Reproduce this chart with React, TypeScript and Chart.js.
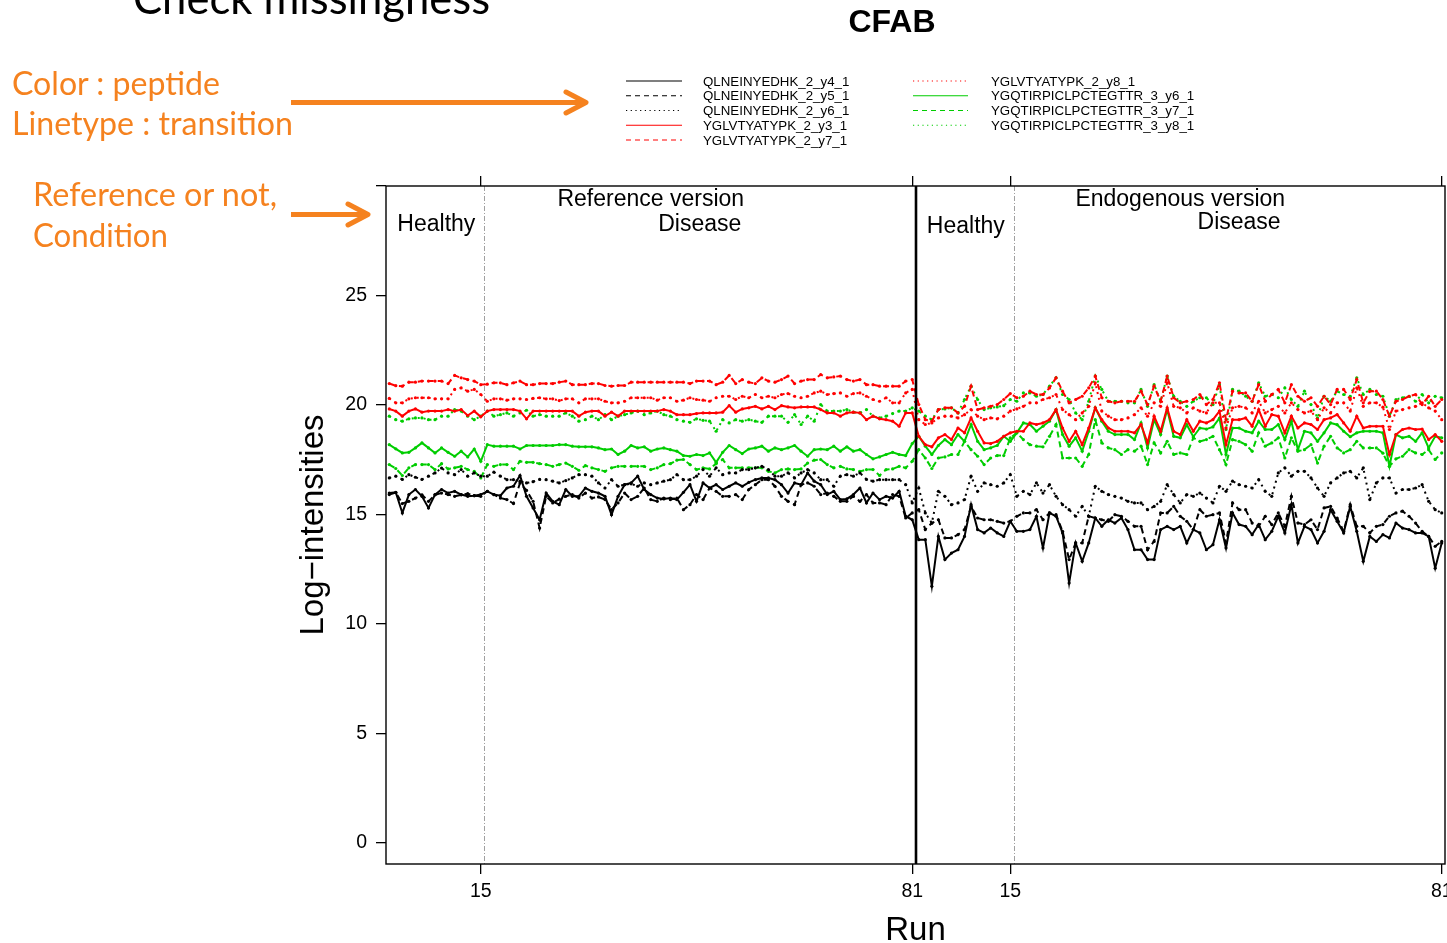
import React, { useEffect, useRef } from 'react';
import { Chart, registerables } from 'chart.js';

Chart.register(...registerables);

// ---------------- data ----------------
const RUNS_PER_PANEL = 81;
const HEALTHY_RUNS = 15;
const PANEL_NAMES = ['Reference version', 'Endogenous version'];
const CONDITION_NAMES = ['Healthy', 'Disease'];
const X_TICK_RUNS = [15, 81, 96, 162];
const Y_TICKS = [0, 5, 10, 15, 20, 25, 30];
const Y_LABELED_MAX = 25;

const TRANSITIONS = [
  'QLNEINYEDHK_2_y4_1',
  'QLNEINYEDHK_2_y5_1',
  'QLNEINYEDHK_2_y6_1',
  'YGLVTYATYPK_2_y3_1',
  'YGLVTYATYPK_2_y7_1',
  'YGLVTYATYPK_2_y8_1',
  'YGQTIRPICLPCTEGTTR_3_y6_1',
  'YGQTIRPICLPCTEGTTR_3_y7_1',
  'YGQTIRPICLPCTEGTTR_3_y8_1',
];

// Reference version, runs 1..81
const refQ_y4 = [15.98,16.01,15.07,15.91,16.14,15.83,15.30,15.91,16.14,15.98,16.06,15.91,15.83,15.86,15.91,16.06,15.91,15.86,16.21,16.29,16.78,15.83,15.30,14.76,15.98,15.60,15.45,16.14,15.83,15.83,16.21,16.06,15.98,15.83,14.99,15.83,16.36,16.44,16.75,16.14,15.91,15.75,15.71,15.75,15.68,16.01,16.36,15.60,16.44,16.21,16.36,16.14,16.29,16.44,16.29,16.47,16.59,16.67,16.67,16.59,16.36,15.98,16.44,16.36,16.89,16.52,16.36,15.91,16.06,15.68,15.71,15.91,16.21,15.53,15.98,15.68,15.83,15.75,16.06,14.92,14.76];
const refQ_y5 = [15.91,16.00,15.50,15.60,15.75,15.90,15.60,15.90,15.98,15.91,15.83,15.90,15.95,15.86,15.83,16.06,15.91,15.75,15.68,15.50,16.44,16.10,15.60,14.38,15.83,15.53,15.70,15.83,15.91,15.75,15.98,15.75,15.80,15.68,15.22,15.53,15.98,15.68,15.83,16.21,15.68,15.60,15.75,15.68,15.75,15.22,15.45,15.91,15.68,16.21,16.06,15.83,15.83,15.91,15.68,16.14,16.36,16.59,16.59,16.29,15.83,15.60,15.45,16.36,16.44,16.29,15.91,15.98,15.83,15.60,15.60,15.83,15.60,15.91,15.53,15.53,15.45,15.91,15.83,14.84,15.07];
const refQ_y6 = [16.67,16.75,16.60,16.82,16.70,16.60,16.75,16.90,17.12,16.90,16.82,17.05,16.75,16.90,16.75,16.75,16.93,16.75,16.59,16.59,16.52,16.44,16.50,16.60,16.59,16.52,16.44,16.55,16.67,16.82,16.82,16.75,16.44,16.21,16.59,16.29,16.36,16.40,16.29,16.44,16.36,16.44,16.52,16.59,16.82,16.59,16.59,16.75,17.05,16.75,17.13,16.82,16.90,16.90,17.05,17.05,17.13,17.20,17.05,16.75,16.75,16.90,16.67,16.90,17.05,16.90,16.59,16.59,16.29,16.75,16.82,16.75,16.90,16.60,16.52,16.59,16.59,16.59,16.59,16.36,15.53];
const refY_y3 = [19.82,19.72,19.49,19.72,19.82,19.67,19.72,19.72,19.72,19.79,19.72,19.79,19.52,19.72,19.46,19.72,19.79,19.79,19.79,19.79,19.72,19.37,19.72,19.72,19.72,19.72,19.72,19.72,19.72,19.49,19.67,19.72,19.72,19.49,19.67,19.49,19.72,19.72,19.72,19.72,19.72,19.72,19.79,19.72,19.56,19.56,19.56,19.61,19.64,19.64,19.64,19.67,19.97,19.67,19.82,19.87,19.94,19.82,19.94,19.79,19.97,19.91,19.87,19.91,19.91,19.91,19.79,19.64,19.64,19.49,19.64,19.67,19.64,19.33,19.49,19.37,19.33,19.26,19.03,19.64,19.64];
const refY_y7 = [20.98,20.88,20.86,21.04,21.04,21.09,21.09,21.09,21.09,20.98,21.35,21.24,21.16,21.09,20.93,20.95,21.01,21.01,20.93,21.01,21.09,20.93,20.93,20.98,20.98,20.98,21.04,21.09,20.93,20.93,20.93,20.98,20.98,20.89,20.86,20.89,20.89,21.04,21.04,21.04,21.04,21.04,21.04,21.04,21.04,21.04,20.98,21.09,21.09,21.09,20.93,21.04,21.35,20.98,21.16,21.04,20.98,21.24,21.09,21.04,21.16,21.32,20.98,21.09,21.16,21.16,21.39,21.24,21.28,21.32,21.16,21.09,21.16,20.93,20.93,20.86,20.86,20.86,20.86,21.09,21.16];
const refY_y8 = [20.30,20.10,20.10,20.28,20.33,20.33,20.33,20.28,20.28,20.28,20.71,20.78,20.63,20.71,20.48,20.17,20.28,20.28,20.22,20.28,20.28,20.25,20.30,20.33,20.28,20.28,20.20,20.28,20.28,20.10,20.28,20.28,20.28,20.17,20.10,20.10,20.17,20.33,20.33,20.33,20.33,20.22,20.33,20.33,20.17,20.22,20.33,20.25,20.22,20.17,20.33,20.40,20.40,20.25,20.40,20.33,20.48,20.33,20.40,20.33,20.48,20.52,20.40,20.33,20.40,20.55,20.63,20.48,20.52,20.55,20.40,20.52,20.55,20.40,20.25,20.17,20.33,20.10,20.10,20.55,20.71];
const refG_y6 = [18.19,18.00,17.81,17.84,18.04,18.27,18.04,17.81,18.04,17.84,17.66,17.89,17.63,17.99,17.43,18.19,18.12,18.12,18.12,18.12,17.99,18.15,18.15,18.15,18.15,18.15,18.19,18.19,18.12,18.09,18.09,18.09,18.04,17.96,17.99,17.74,17.89,18.15,18.04,18.09,17.89,17.99,18.04,17.96,17.89,17.69,17.66,17.74,17.69,17.81,17.38,17.84,18.15,17.96,17.78,17.99,18.04,18.12,17.89,18.04,17.96,18.04,18.15,17.89,17.66,17.96,17.99,17.96,18.12,17.89,18.09,17.89,17.96,17.74,17.54,17.63,17.74,17.84,17.74,17.69,18.24];
const refG_y7 = [17.28,17.10,16.78,17.13,17.28,17.28,17.28,17.05,17.32,17.08,17.13,17.20,17.05,16.97,16.67,17.28,17.20,17.28,17.28,17.05,17.43,17.38,17.38,17.32,17.28,17.20,17.28,17.35,17.20,17.02,17.23,17.13,17.05,16.97,17.13,17.20,17.20,17.20,17.20,17.20,17.05,17.13,17.28,17.32,17.48,17.51,17.28,17.05,17.13,17.08,17.32,17.51,17.13,17.13,17.13,17.13,17.13,17.13,16.97,16.90,17.05,17.08,17.05,17.08,17.35,17.48,17.51,17.28,17.13,17.20,17.08,17.05,16.97,17.05,17.05,16.78,17.05,17.08,17.20,17.13,17.43];
const refG_y8 = [19.49,19.33,19.26,19.37,19.41,19.41,19.33,19.33,19.49,19.49,19.79,19.72,19.49,19.33,19.49,19.72,19.49,19.56,19.64,19.49,19.64,19.76,19.49,19.56,19.49,19.49,19.49,19.64,19.49,19.26,19.33,19.49,19.33,19.56,19.33,19.49,19.56,19.64,19.72,19.56,19.64,19.72,19.56,19.49,19.33,19.26,19.21,19.37,19.30,19.26,18.80,19.33,19.18,19.33,19.26,19.33,19.26,19.21,19.49,19.49,19.49,19.21,19.56,19.11,19.49,19.26,20.02,19.72,19.72,19.72,19.79,19.67,19.64,19.79,19.49,19.41,19.49,19.61,19.72,19.72,19.87];

// Endogenous version, runs 1..81
const endoQ_y4 = [13.85,13.85,11.72,14.00,12.94,13.24,13.39,14.00,15.45,14.31,14.16,14.38,14.16,14.00,14.69,14.23,14.23,14.31,14.92,13.47,15.07,14.92,14.16,11.87,13.70,12.86,13.70,14.84,14.46,14.76,14.61,14.84,14.31,13.39,13.39,12.94,12.94,14.31,14.46,14.31,14.46,13.70,14.31,14.16,13.39,13.62,14.76,13.47,15.07,14.54,14.46,14.08,14.54,13.85,14.23,14.92,14.16,15.45,13.70,14.46,14.31,13.70,14.23,15.22,14.69,14.16,15.37,14.23,12.86,14.00,13.77,14.08,13.93,14.61,14.38,14.31,14.16,14.16,14.00,12.55,13.70];
const endoQ_y5 = [15.22,14.31,14.61,14.76,13.93,13.93,14.08,14.31,15.37,14.84,14.76,14.76,14.69,14.61,14.69,14.92,15.07,15.07,15.22,14.76,15.07,14.99,14.23,12.94,13.70,13.70,14.92,14.84,14.76,14.69,14.99,14.92,14.69,14.46,14.46,13.39,13.77,15.07,15.07,15.37,14.92,14.69,14.31,15.22,14.92,14.99,15.07,13.70,15.53,15.22,15.22,14.61,14.46,14.92,14.54,15.07,14.46,15.83,14.61,14.54,14.76,14.31,15.30,15.37,14.84,14.23,15.45,14.46,14.46,14.16,14.46,14.54,14.92,15.07,15.15,14.92,14.61,14.23,14.00,13.55,13.77];
const endoQ_y6 = [16.21,15.07,14.61,16.06,15.83,15.45,15.53,15.68,16.75,16.06,16.44,16.36,16.29,16.44,16.82,15.83,16.06,15.91,16.44,15.98,16.36,15.83,15.45,15.22,14.92,15.37,14.92,16.29,16.06,15.91,15.83,15.75,15.60,15.53,15.53,15.22,15.37,15.60,16.36,15.91,15.53,15.91,15.83,15.98,15.75,15.53,16.29,16.06,16.52,16.36,16.29,16.21,16.59,16.06,15.83,16.90,17.13,16.75,16.97,16.97,16.67,16.21,15.83,16.44,16.67,16.90,16.97,16.67,17.13,15.68,16.44,16.67,16.67,15.98,16.14,16.14,16.21,16.36,15.60,15.22,15.07];
const endoY_y3 = [18.57,18.19,18.09,18.50,18.65,18.42,18.95,18.73,19.41,18.80,18.27,18.24,18.34,18.57,18.73,18.80,18.80,19.18,19.11,19.18,19.33,19.79,18.95,18.34,18.80,18.19,18.95,19.87,19.33,18.95,18.80,18.80,18.80,18.73,19.11,18.27,19.49,18.80,19.87,18.80,18.65,19.33,18.80,19.26,19.18,19.33,19.72,18.19,19.33,19.33,19.41,19.03,19.79,19.03,19.56,19.49,18.73,19.49,18.95,19.18,19.11,18.88,19.33,19.41,19.56,19.18,18.80,19.49,18.95,19.03,19.03,19.03,17.74,18.65,18.88,18.95,18.88,18.90,18.42,18.65,18.34];
const endoY_y7 = [20.02,19.33,19.26,19.79,19.87,19.87,19.64,19.94,20.86,19.79,19.87,19.94,20.02,20.25,20.52,20.33,20.40,20.63,20.48,20.48,20.78,21.24,20.63,20.10,20.25,20.40,20.78,21.32,20.33,20.17,20.10,20.17,20.17,20.17,20.63,20.02,20.86,20.17,21.32,20.33,20.10,20.17,20.25,20.48,20.02,20.25,21.01,19.33,20.63,20.55,20.55,20.17,20.93,20.17,20.48,20.71,20.10,20.93,20.40,20.17,20.33,19.94,20.40,20.02,20.71,20.71,20.25,21.16,20.10,20.63,20.63,20.25,19.49,20.17,20.25,20.40,20.48,20.02,20.40,19.94,20.25];
const endoY_y8 = [19.33,19.11,19.18,19.41,19.49,19.49,19.41,19.56,19.79,19.49,19.33,19.41,19.37,19.49,19.72,19.82,19.94,20.10,20.10,20.25,20.33,20.48,19.79,19.56,19.33,19.64,19.94,21.01,19.72,19.49,19.33,19.33,19.41,19.56,19.87,19.49,20.10,19.94,21.01,19.94,19.87,19.64,19.87,19.72,19.64,20.10,20.10,18.95,19.87,19.94,19.87,19.64,20.17,19.64,19.79,19.94,19.64,20.10,19.79,19.64,19.72,19.33,19.87,19.64,20.10,20.10,19.72,20.78,19.94,20.10,20.10,19.90,18.88,19.72,19.79,19.87,19.94,20.10,19.87,19.72,19.33];
const endoG_y6 = [18.57,18.12,17.74,18.15,18.42,18.19,18.65,18.34,19.11,18.34,17.96,18.04,18.15,18.57,18.34,18.73,19.18,19.11,18.80,19.03,19.26,19.79,18.65,18.12,18.50,17.89,18.80,19.87,19.26,18.80,18.65,18.65,18.65,18.42,19.18,18.04,19.33,18.65,19.79,18.57,18.50,19.10,18.55,18.95,18.90,19.00,19.40,17.74,18.95,18.95,18.80,18.73,19.26,18.88,18.88,19.11,18.42,19.26,17.96,18.80,18.73,18.34,18.73,19.18,19.10,18.80,18.55,18.73,18.80,18.80,18.80,18.73,17.20,18.65,18.50,18.57,18.34,18.73,18.04,18.57,18.50];
const endoG_y7 = [17.96,17.58,17.10,17.58,17.63,17.74,17.74,18.34,17.96,17.66,17.28,17.58,17.69,17.69,18.50,18.73,18.42,18.19,18.12,18.09,18.57,19.11,17.58,17.58,17.58,17.20,17.74,19.33,18.27,18.04,17.96,17.74,17.96,17.89,18.12,17.28,18.27,17.81,18.34,17.74,17.81,17.74,18.50,18.34,18.42,18.57,17.96,17.28,18.42,18.34,18.19,17.89,18.73,18.12,18.27,18.50,17.58,18.50,17.89,17.96,18.19,17.35,18.12,18.57,18.04,17.81,17.96,18.34,18.04,18.04,18.04,17.80,17.20,17.54,17.66,17.96,17.81,17.74,17.96,17.51,17.81];
const endoG_y8 = [19.72,19.49,19.33,19.79,19.82,19.87,19.64,20.25,20.86,20.25,19.79,19.87,19.91,19.97,20.25,20.17,20.55,20.55,20.40,20.48,20.86,21.24,20.48,20.25,19.64,19.33,20.17,21.32,20.71,20.17,20.17,20.17,20.10,20.10,20.71,19.94,20.93,20.17,21.32,20.40,20.17,19.94,20.17,20.33,20.33,20.02,20.93,18.88,20.71,20.63,20.40,20.17,21.01,20.40,20.48,20.33,20.78,20.25,19.94,20.63,20.02,19.41,20.40,20.17,20.63,20.48,20.40,21.24,20.48,20.71,20.48,20.40,19.49,20.25,20.33,20.40,20.17,20.48,20.10,20.40,20.33];

const REF_SERIES = [refQ_y4, refQ_y5, refQ_y6, refY_y3, refY_y7, refY_y8, refG_y6, refG_y7, refG_y8];
const ENDO_SERIES = [endoQ_y4, endoQ_y5, endoQ_y6, endoY_y3, endoY_y7, endoY_y8, endoG_y6, endoG_y7, endoG_y8];

// ---------------- styles ----------------
const PEPTIDE_COLORS = ['#000000', '#ff0000', '#00cd00'];
const LINE_DASHES: number[][] = [[], [6, 4], [2, 4]];
const LEGEND_DASHES = ['', '5 4', '1.2 3.5'];
const FONT = "'Liberation Sans', Arial, Helvetica, sans-serif";
const ORANGE = '#f5821f';

const decorPlugin = {
  id: 'decor',
  beforeDatasetsDraw(chart: any) {
    const { ctx, chartArea: a, scales } = chart;
    const x = scales.x;
    ctx.save();
    ctx.strokeStyle = '#a0a0a0';
    ctx.lineWidth = 1;
    ctx.setLineDash([5, 2, 1, 2]);
    for (const b of [HEALTHY_RUNS + 0.5, RUNS_PER_PANEL + HEALTHY_RUNS + 0.5]) {
      const px = Math.round(x.getPixelForValue(b)) + 0.5;
      ctx.beginPath();
      ctx.moveTo(px, a.top);
      ctx.lineTo(px, a.bottom);
      ctx.stroke();
    }
    ctx.restore();
  },
  afterDatasetsDraw(chart: any) {
    const { ctx, chartArea: a, scales } = chart;
    const x = scales.x;
    ctx.save();
    ctx.strokeStyle = '#000';
    ctx.lineWidth = 2.6;
    const dpx = x.getPixelForValue(RUNS_PER_PANEL + 0.5) + 0.5;
    ctx.beginPath();
    ctx.moveTo(dpx, a.top);
    ctx.lineTo(dpx, a.bottom);
    ctx.stroke();
    ctx.lineWidth = 1.4;
    ctx.strokeRect(a.left, a.top, a.right - a.left, a.bottom - a.top);

    // panel / condition labels
    ctx.fillStyle = '#000';
    ctx.font = `23px ${FONT}`;
    ctx.textAlign = 'center';
    ctx.textBaseline = 'middle';
    const labels: [string, number, number][] = [
      [PANEL_NAMES[0], RUNS_PER_PANEL / 2 + 0.5, 14],
      [CONDITION_NAMES[0], (HEALTHY_RUNS + 1) / 2 + 0.2, 39],
      [CONDITION_NAMES[1], (HEALTHY_RUNS + RUNS_PER_PANEL + 1) / 2, 39],
      [PANEL_NAMES[1], RUNS_PER_PANEL * 1.5 + 0.5, 14],
      [CONDITION_NAMES[0], RUNS_PER_PANEL + (HEALTHY_RUNS + 1) / 2 + 0.2, 41],
      [CONDITION_NAMES[1], RUNS_PER_PANEL + (HEALTHY_RUNS + RUNS_PER_PANEL + 1) / 2 + 1.5, 37],
    ];
    for (const [t, v, dy] of labels) ctx.fillText(t, x.getPixelForValue(v), a.top + dy);

    // titles
    ctx.font = `bold 32px ${FONT}`;
    ctx.fillText('CFAB', 892, 23);
    ctx.font = `33px ${FONT}`;
    ctx.fillText('Run', (a.left + a.right) / 2, 931);
    ctx.translate(314, (a.top + a.bottom) / 2);
    ctx.rotate(-Math.PI / 2);
    ctx.fillText('Log\u2212intensities', 0, 0);
    ctx.restore();
  },
};

function xAxis(position: 'top' | 'bottom', height: number) {
  return {
    type: 'linear',
    axis: 'x',
    position,
    min: 0.5,
    max: RUNS_PER_PANEL * 2 + 0.5,
    afterBuildTicks: (s: any) => {
      s.ticks = X_TICK_RUNS.map((v) => ({ value: v }));
    },
    afterFit: (s: any) => {
      s.height = height;
      s.paddingLeft = 0;
      s.paddingRight = 0;
    },
    ticks: {
      display: position === 'bottom',
      autoSkip: false,
      maxRotation: 0,
      padding: 6,
      color: '#000',
      font: { size: 19.5, family: FONT },
      callback: (v: number) => String(v > RUNS_PER_PANEL ? v - RUNS_PER_PANEL : v),
    },
    grid: { drawOnChartArea: false, drawTicks: true, tickLength: 10, color: '#000', lineWidth: 1.3 },
    border: { display: false },
  };
}

export default function App() {
  const canvasRef = useRef<HTMLCanvasElement>(null);

  useEffect(() => {
    const datasets = TRANSITIONS.map((name, i) => {
      const values = [...REF_SERIES[i], ...ENDO_SERIES[i]];
      const color = PEPTIDE_COLORS[Math.floor(i / 3)];
      return {
        label: name,
        data: values.map((y, k) => ({ x: k + 1, y })),
        borderColor: color,
        backgroundColor: color,
        borderWidth: 2,
        borderDash: LINE_DASHES[i % 3],
        borderCapStyle: 'butt',
        pointRadius: 1.6,
        pointHoverRadius: 0,
        pointBorderWidth: 0,
        pointBackgroundColor: color,
        tension: 0,
        fill: false,
      };
    });

    const chart = new Chart(canvasRef.current as HTMLCanvasElement, {
      type: 'line',
      data: { datasets } as any,
      options: {
        animation: false,
        responsive: false,
        maintainAspectRatio: false,
        devicePixelRatio: 1,
        layout: { padding: { left: 306, right: 2, top: 176, bottom: 39 } },
        plugins: { legend: { display: false }, tooltip: { enabled: false }, title: { display: false } },
        scales: {
          x: xAxis('bottom', 40),
          xTop: xAxis('top', 10),
          y: {
            type: 'linear',
            position: 'left',
            min: -0.96,
            max: 30,
            afterBuildTicks: (s: any) => {
              s.ticks = Y_TICKS.map((v) => ({ value: v }));
            },
            afterFit: (s: any) => {
              s.width = 80;
              s.paddingTop = 0;
              s.paddingBottom = 0;
            },
            ticks: {
              padding: 9,
              color: '#000',
              font: { size: 19.5, family: FONT },
              callback: (v: number) => (v > Y_LABELED_MAX ? '' : String(v)),
            },
            grid: { drawOnChartArea: false, drawTicks: true, tickLength: 10, color: '#000', lineWidth: 1.3 },
            border: { display: false },
          },
        },
      } as any,
      plugins: [decorPlugin],
    });
    return () => chart.destroy();
  }, []);

  const legendCols = [
    { x1: 626, x2: 682, tx: 703 },
    { x1: 913, x2: 968, tx: 991 },
  ];

  return (
    <div style={{ position: 'fixed', left: 0, top: 0, width: 1447, height: 943, overflow: 'hidden', background: '#fff' }}>
      <canvas ref={canvasRef} width={1447} height={943} style={{ position: 'absolute', left: 0, top: 0, width: 1447, height: 943 }} />
      <svg width={1447} height={943} style={{ position: 'absolute', left: 0, top: 0, pointerEvents: 'none' }}>
        <text x={133} y={14} fontFamily="Lato, 'Open Sans', sans-serif" fontSize={44} fill="#000" textLength={357} lengthAdjust="spacingAndGlyphs">Check missingness</text>
        <g fill={ORANGE} fontFamily="Lato, 'Open Sans', sans-serif" fontSize={32}>
          <text x={12} y={95} textLength={208} lengthAdjust="spacingAndGlyphs">Color : peptide</text>
          <text x={12} y={135} textLength={281} lengthAdjust="spacingAndGlyphs">Linetype : transition</text>
          <text x={33} y={206} textLength={244} lengthAdjust="spacingAndGlyphs">Reference or not,</text>
          <text x={33} y={247} textLength={135} lengthAdjust="spacingAndGlyphs">Condition</text>
        </g>
        <g stroke={ORANGE} strokeWidth={5} fill="none" strokeLinejoin="round">
          <line x1={291} y1={102.5} x2={584} y2={102.5} />
          <polyline points="566,92 586,102.5 566,113" strokeLinecap="round" />
          <line x1={291} y1={214.5} x2={366} y2={214.5} />
          <polyline points="348,204 368,214.5 348,225" strokeLinecap="round" />
        </g>
        {TRANSITIONS.map((name, i) => {
          const col = i < 5 ? 0 : 1;
          const row = col === 0 ? i : i - 5;
          const y = 81 + row * 14.75;
          const c = legendCols[col];
          const color = PEPTIDE_COLORS[Math.floor(i / 3)];
          return (
            <g key={name}>
              <line x1={c.x1} y1={y} x2={c.x2} y2={y} stroke={color} strokeWidth={1.1} strokeDasharray={LEGEND_DASHES[i % 3]} />
              <text x={c.tx} y={y + 4.7} fontFamily={FONT} fontSize={13.3} fill="#000">{name}</text>
            </g>
          );
        })}
      </svg>
    </div>
  );
}
